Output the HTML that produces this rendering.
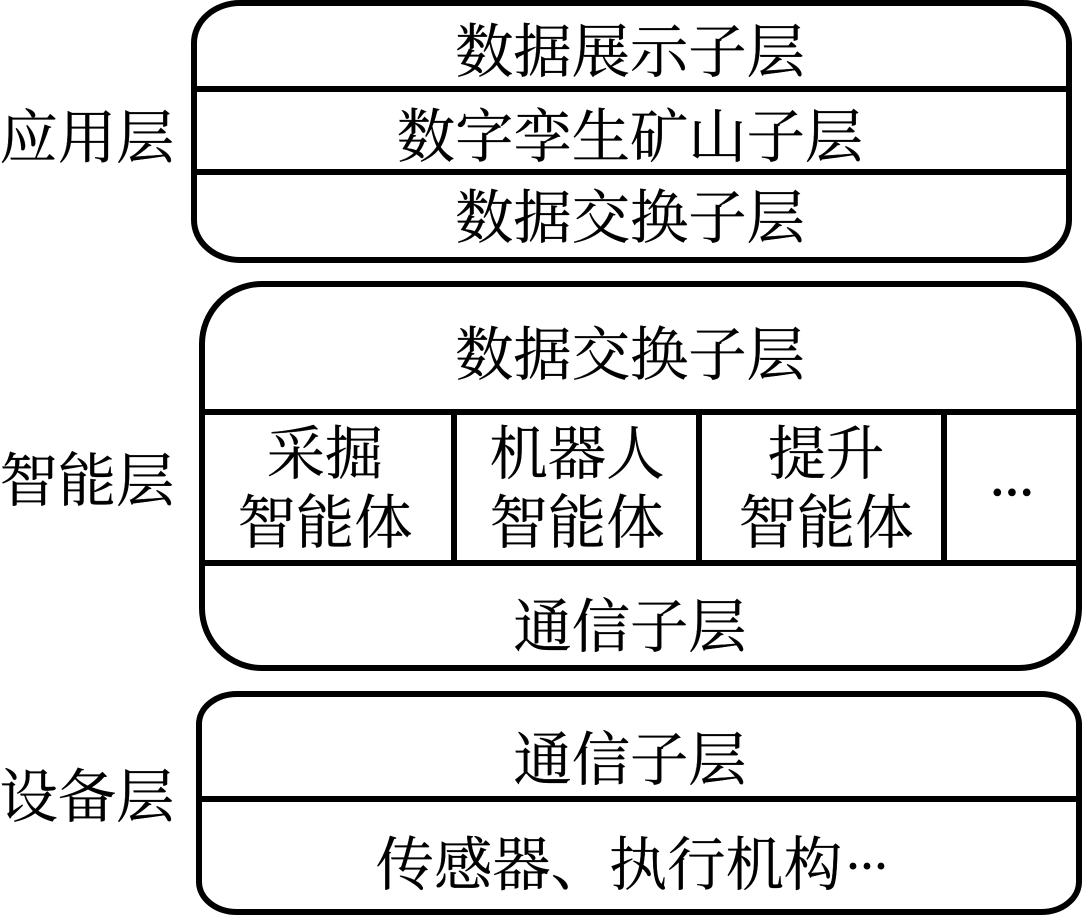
<!DOCTYPE html>
<html>
<head>
<meta charset="utf-8">
<style>
html,body{margin:0;padding:0;background:#fff;width:1082px;height:916px;overflow:hidden}
svg{display:block}
text{font-family:"Liberation Serif","Noto Serif CJK SC",serif;font-size:58.3px;fill:#000;text-anchor:middle;stroke:#000;stroke-width:.3}
text.d{font-family:"Liberation Serif",serif;font-weight:bold;text-anchor:start;font-size:44px;stroke-width:.5}
.s{fill:none;stroke:#000;stroke-width:6}
</style>
</head>
<body>
<svg width="1082" height="916" viewBox="0 0 1082 916" xmlns="http://www.w3.org/2000/svg">
<rect class="s" x="194" y="3" width="875" height="257" rx="46" ry="40"/>
<path class="s" d="M194 89H1069M194 172H1069"/>
<rect class="s" x="202" y="284" width="877" height="384" rx="60" ry="60"/>
<path class="s" d="M202 412H1079M202 563H1079M454 412V563M699 412V563M944 412V566"/>
<rect class="s" x="199" y="694" width="880" height="218" rx="38" ry="30"/>
<path class="s" d="M199 799H1079"/>
<text x="630" y="72">数据展示子层</text>
<text x="630" y="157">数字孪生矿山子层</text>
<text x="630" y="238">数据交换子层</text>
<text x="630" y="375">数据交换子层</text>
<text x="325" y="474">采掘</text>
<text x="325" y="543">智能体</text>
<text x="577" y="474">机器人</text>
<text x="577" y="543">智能体</text>
<text x="826" y="474">提升</text>
<text x="826" y="543">智能体</text>
<text class="d" x="990" y="507">···</text>
<text x="630" y="647">通信子层</text>
<text x="630" y="780">通信子层</text>
<text x="609" y="885">传感器、执行机构</text>
<text class="d" x="846" y="880" style="font-size:42px;stroke-width:0">···</text>
<text x="87" y="158">应用层</text>
<text x="87" y="501">智能层</text>
<text x="87" y="817">设备层</text>
</svg>
</body>
</html>
